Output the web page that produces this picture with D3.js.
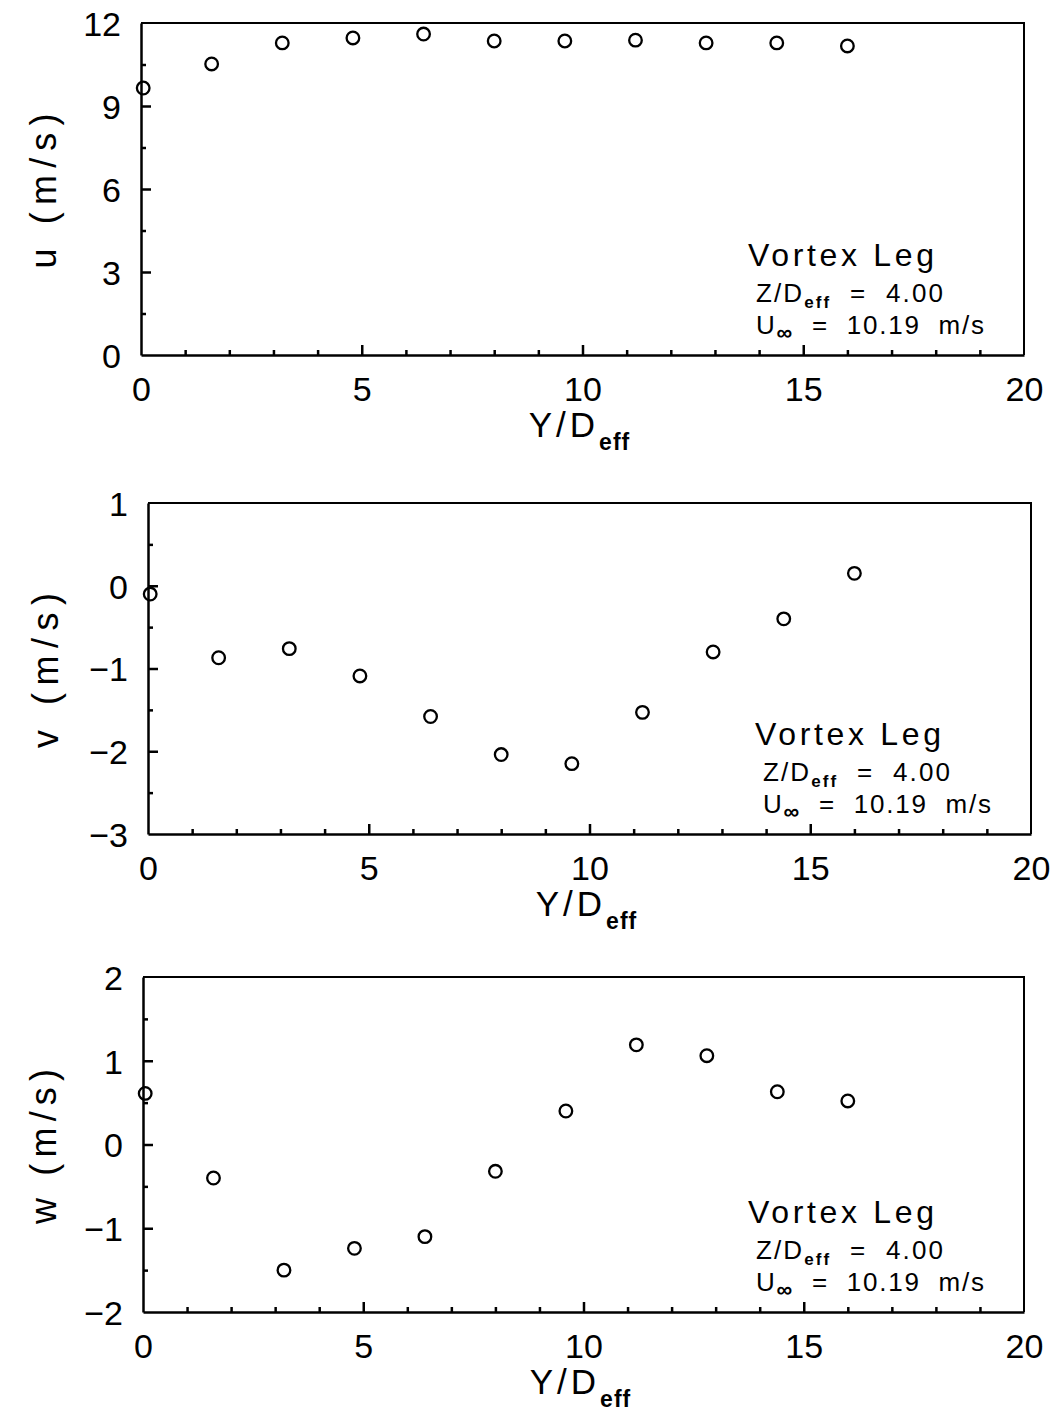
<!DOCTYPE html>
<html><head><meta charset="utf-8">
<script src="https://cdn.jsdelivr.net/npm/d3@7"></script>
<style>
body{margin:0;background:#fff;}
svg{display:block;}
text{font-family:"Liberation Sans",Arial,sans-serif;fill:#000;}
</style></head>
<body>
<svg id="chart" width="1054" height="1416"></svg>
<script>
// ---- data ----
const yOverD = [0.05, 1.6, 3.2, 4.8, 6.4, 8.0, 9.6, 11.2, 12.8, 14.4, 16.0];
const uVals = [9.65, 10.52, 11.28, 11.46, 11.6, 11.35, 11.35, 11.38, 11.28, 11.28, 11.17];
const vVals = [-0.10, -0.87, -0.76, -1.09, -1.58, -2.04, -2.15, -1.53, -0.80, -0.40, 0.15];
const wVals = [0.61, -0.40, -1.50, -1.24, -1.10, -0.32, 0.40, 1.19, 1.06, 0.63, 0.52];
const xMajorTicks = [0, 5, 10, 15, 20];
const xMinorTicks = [1,2,3,4,6,7,8,9,11,12,13,14,16,17,18,19];
const uMajorTicks = [0, 3, 6, 9, 12];
const uMinorTicks = [1.5, 4.5, 7.5, 10.5];
const vMajorTicks = [-3, -2, -1, 0, 1];
const vMinorTicks = [-2.5, -1.5, -0.5, 0.5];
const wMajorTicks = [-2, -1, 0, 1, 2];
const wMinorTicks = [-1.5, -0.5, 0.5, 1.5];
const annotTitle = "Vortex Leg";
const annotZ = "4.00";
const annotU = "10.19";

const panels = [
  {vals: uVals, yDom: [0, 12], major: uMajorTicks, minor: uMinorTicks, label: "u",
   left: 141, right: 1024, top: 23, bottom: 355, ylabX: 44},
  {vals: vVals, yDom: [-3, 1], major: vMajorTicks, minor: vMinorTicks, label: "v",
   left: 148, right: 1031, top: 503, bottom: 834, ylabX: 46},
  {vals: wVals, yDom: [-2, 2], major: wMajorTicks, minor: wMinorTicks, label: "w",
   left: 143, right: 1024, top: 977, bottom: 1312, ylabX: 44}
];

const svg = d3.select("#chart");
const fmt = d => (d < 0 ? "\u2212" + Math.abs(d) : String(d));

panels.forEach(p => {
  const x = d3.scaleLinear().domain([0, 20]).range([p.left, p.right]);
  const y = d3.scaleLinear().domain(p.yDom).range([p.bottom, p.top]);
  const g = svg.append("g");

  // border top/right
  g.append("path")
    .attr("d", `M${p.left},${p.top}H${p.right}V${p.bottom}`)
    .attr("fill", "none").attr("stroke", "#000").attr("stroke-width", 2);

  // x axis
  const gx = g.append("g").attr("transform", `translate(0,${p.bottom})`)
    .call(d3.axisBottom(x).tickValues(xMajorTicks).tickSizeInner(-10).tickSizeOuter(0)
      .tickPadding(12).tickFormat(d => d));
  gx.append("g").call(d3.axisBottom(x).tickValues(xMinorTicks).tickSizeInner(-5).tickSizeOuter(0).tickFormat(""))
    .select(".domain").remove();
  gx.selectAll(".tick line").attr("stroke-width", 2.5);
  gx.select(".domain").attr("stroke-width", 2.5);
  gx.selectAll(".tick text").attr("font-size", 34).attr("font-family", "Liberation Sans, Arial, sans-serif")
    .attr("dy", null).attr("y", 46).attr("dominant-baseline", "alphabetic");
  gx.selectAll(".tick").filter(d => d === 0 || d === 20).select("line").remove();

  // y axis
  const gy = g.append("g").attr("transform", `translate(${p.left},0)`)
    .call(d3.axisLeft(y).tickValues(p.major).tickSizeInner(-10).tickSizeOuter(0)
      .tickPadding(20).tickFormat(fmt));
  gy.append("g").call(d3.axisLeft(y).tickValues(p.minor).tickSizeInner(-5).tickSizeOuter(0).tickFormat(""))
    .select(".domain").remove();
  gy.selectAll(".tick line").attr("stroke-width", 2.5);
  gy.select(".domain").attr("stroke-width", 2.5);
  gy.selectAll(".tick text").attr("font-size", 34).attr("font-family", "Liberation Sans, Arial, sans-serif")
    .attr("dy", "0.36em");
  gy.selectAll(".tick").filter(d => d === p.yDom[0] || d === p.yDom[1]).select("line").remove();

  // points
  g.append("g").selectAll("circle").data(p.vals).join("circle")
    .attr("cx", (d, i) => x(yOverD[i])).attr("cy", d => y(d)).attr("r", 6.3)
    .attr("fill", "none").attr("stroke", "#000").attr("stroke-width", 2.3);

  // x axis title
  const xt = g.append("text").attr("x", (p.left + p.right) / 2 - 3).attr("y", p.bottom + 82)
    .attr("text-anchor", "middle").attr("font-size", 35).attr("letter-spacing", 4);
  xt.append("tspan").text("Y/D");
  xt.append("tspan").attr("dy", 13).attr("font-size", 23).attr("font-weight", "bold").attr("letter-spacing", 1).text("eff");

  // y axis title
  const cy = (p.top + p.bottom) / 2 + 2;
  g.append("text").attr("transform", `translate(${p.ylabX + 12},${cy}) rotate(-90)`)
    .attr("text-anchor", "middle").attr("font-size", 36)
    .attr("textLength", 155).attr("lengthAdjust", "spacing")
    .text(`${p.label} (m/s)`);

  // annotation
  const ax = p.right - 276;
  g.append("text").attr("x", ax).attr("y", p.bottom - 89).attr("font-size", 32)
    .attr("textLength", 186).attr("lengthAdjust", "spacing").text(annotTitle);
  const z = g.append("text").attr("x", ax + 8).attr("y", p.bottom - 53).attr("font-size", 26)
    .attr("textLength", 187).attr("lengthAdjust", "spacing");
  z.append("tspan").text("Z/D");
  z.append("tspan").attr("dy", 6).attr("font-size", 17).attr("font-weight", "bold").text("eff");
  z.append("tspan").attr("dy", -6).attr("xml:space", "preserve").text("  =  " + annotZ);
  const u = g.append("text").attr("x", ax + 8).attr("y", p.bottom - 21).attr("font-size", 26)
    .attr("textLength", 228).attr("lengthAdjust", "spacing");
  u.append("tspan").text("U");
  u.append("tspan").attr("dy", 6).attr("font-size", 22).attr("font-weight", "bold").text("\u221E");
  u.append("tspan").attr("dy", -6).attr("xml:space", "preserve").text("  =  " + annotU + "  m/s");
});
</script>
</body></html>
